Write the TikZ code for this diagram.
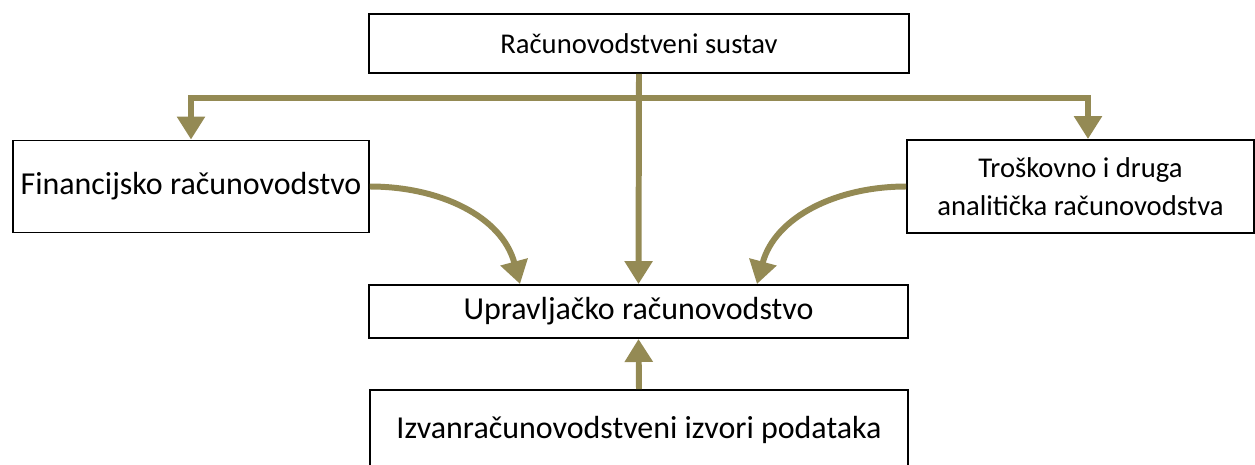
\documentclass[tikz,border=0pt]{standalone}
\usepackage{fontspec}
\setmainfont{Carlito}
\usetikzlibrary{arrows.meta}
\definecolor{olive}{RGB}{148,138,84}
\begin{document}
\begin{tikzpicture}[x=0.02cm,y=-0.02cm,
        box/.style={draw,line width=1.1pt,align=center,inner sep=0pt,
            font=\fontsize{18.2}{21.6}\selectfont},
        small/.style={font=\fontsize{16.3}{21.6}\selectfont},
        flow/.style={draw=olive,line width=3.4pt,
            -{Triangle[width=0.54cm,length=0.46cm]}}]
        \useasboundingbox (0,0) rectangle (1255,464);
        \node [box,small,minimum width=10.8cm,minimum height=1.18cm] (sustav) at (639,43.5) {Računovodstveni sustav};
        \node [box,minimum width=7.12cm,minimum height=1.84cm] (fin) at (191,186.5) {Financijsko računovodstvo};
        \node [box,small,minimum width=6.94cm,minimum height=1.86cm] (tros) at (1080.5,186.5) {Troškovno i druga\\analitička računovodstva};
        \node [box,minimum width=10.78cm,minimum height=1.06cm] (uprav) at (638.5,311.5) {Upravljačko računovodstvo};
        \node [box,minimum width=10.78cm,minimum height=1.6cm] (izvan) at (639,430) {Izvanračunovodstveni izvori podataka};
        \coordinate (bus) at (641,98);
        \draw [flow,{Triangle[width=0.54cm,length=0.46cm]}-{Triangle[width=0.54cm,length=0.46cm]}]
            (fin.north) |- (bus) -| ([xshift=0.15cm]tros.north);
        \draw [flow] (sustav.south) -- (uprav.north);
        \draw [flow] (fin.east) to [out=0,in=105] ([xshift=-2.37cm]uprav.north);
        \draw [flow] (tros.west) to [out=180,in=75] ([xshift=2.37cm]uprav.north);
        \draw [flow] (izvan.north) -- (uprav.south);
\end{tikzpicture}
\end{document}
